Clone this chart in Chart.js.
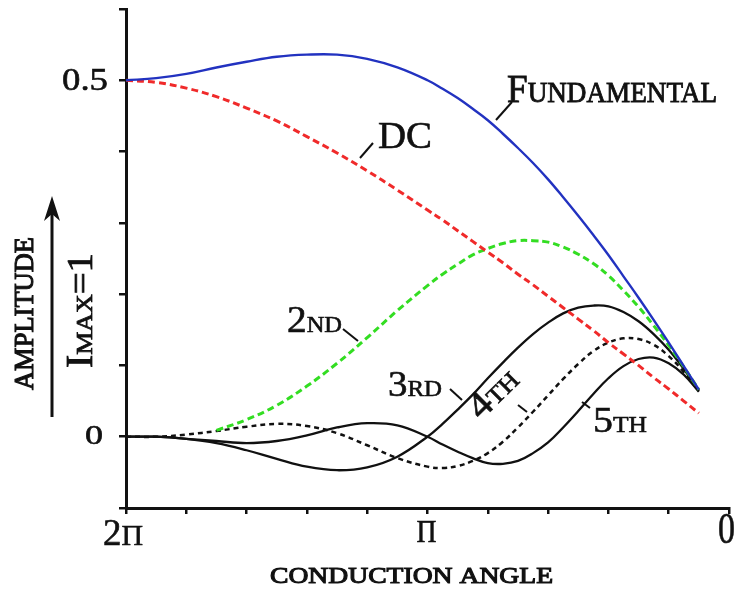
<!DOCTYPE html>
<html><head><meta charset="utf-8">
<script src="https://cdn.jsdelivr.net/npm/chart.js@4.4.1/dist/chart.umd.min.js"></script>
<style>html,body{margin:0;padding:0;background:#fff;}#wrap{width:740px;height:592px;}</style>
</head><body><div id="wrap"><canvas id="c" width="740" height="592"></canvas></div>
<script>
// conduction angle in units of pi (x axis runs from 2pi on the left to 0 on the right)
const alpha = [2.0,1.9,1.8,1.7,1.6,1.5,1.4,1.3,1.2,1.1,1.0,0.95,0.9,0.85,0.8,0.75,0.7,0.65,0.6,0.55,0.5,0.45,0.4,0.35,0.3,0.25,0.2,0.15,0.1];
const fundamental = [0.5,0.503,0.509,0.518,0.526,0.533,0.536,0.536,0.530,0.518,0.500,0.488,0.475,0.460,0.444,0.425,0.405,0.384,0.361,0.336,0.310,0.283,0.255,0.225,0.195,0.164,0.132,0.099,0.066];
const dc = [0.5,0.497,0.489,0.477,0.461,0.443,0.421,0.398,0.373,0.346,0.318,0.304,0.289,0.274,0.259,0.244,0.228,0.213,0.197,0.181,0.165,0.149,0.132,0.116,0.100,0.083,0.067,0.050,0.033];
const second = [null,null,null,0.009,0.024,0.044,0.071,0.103,0.139,0.177,0.212,0.228,0.242,0.255,0.264,0.271,0.275,0.275,0.273,0.266,0.256,0.243,0.226,0.205,0.182,0.156,0.128,0.098,0.066];
const third = [0,0,-0.003,-0.009,-0.019,-0.031,-0.042,-0.047,-0.043,-0.028,0,0.018,0.038,0.059,0.082,0.104,0.125,0.144,0.160,0.173,0.181,0.184,0.183,0.175,0.162,0.144,0.122,0.095,0.065];
const fourth = [0,0,0.003,0.008,0.014,0.018,0.015,0.005,-0.012,-0.030,-0.042,-0.044,-0.041,-0.034,-0.023,-0.007,0.013,0.035,0.058,0.081,0.102,0.120,0.132,0.138,0.137,0.129,0.113,0.091,0.064];
const fifth = [0,0,-0.003,-0.006,-0.009,-0.006,0.002,0.013,0.019,0.016,0,-0.011,-0.021,-0.030,-0.037,-0.038,-0.034,-0.023,-0.008,0.013,0.036,0.060,0.082,0.099,0.109,0.111,0.103,0.087,0.063];

const xTickValues = [2, 1, 0];
const xTickTexts = [[['2',37],['Π',30]], [['Π',32]], [['0',44]]];
const yTickValues = [0.5, 0];
const yTickTexts = ['0.5', '0'];

const SERIF = '"Liberation Serif","Times New Roman",serif';
function pts(arr){ return alpha.map((a,i)=>({x:a, y:arr[i]})); }

function drawParts(ctx, parts, x, y, width, rot, heavy){
  ctx.save();
  ctx.translate(x, y);
  if (rot) ctx.rotate(rot);
  let nat = 0;
  parts.forEach(p=>{ ctx.font = p[1]+'px '+SERIF; nat += ctx.measureText(p[0]).width; });
  const sx = width ? width/nat : 1;
  ctx.scale(sx, 1);
  ctx.fillStyle = '#111'; ctx.strokeStyle = '#111'; ctx.lineWidth = heavy || 0.6;
  ctx.textAlign = 'left'; ctx.textBaseline = 'alphabetic';
  let cx = 0;
  parts.forEach(p=>{ ctx.font = p[1]+'px '+SERIF; ctx.fillText(p[0], cx, 0); ctx.strokeText(p[0], cx, 0); cx += ctx.measureText(p[0]).width; });
  ctx.restore();
}
function seg(ctx, x1, y1, x2, y2, w){
  ctx.save(); ctx.strokeStyle = '#111'; ctx.lineWidth = w || 2; ctx.lineCap = 'butt';
  ctx.beginPath(); ctx.moveTo(x1, y1); ctx.lineTo(x2, y2); ctx.stroke(); ctx.restore();
}

const labelsPlugin = {
  id: 'labels',
  afterDraw(chart){
    const ctx = chart.ctx, xs = chart.scales.x, ys = chart.scales.y;
    // x tick labels
    const xw = [40, 20, 17];
    const xoff = [-3, -1, -2.5];
    const xbase = [545, 542, 543];
    xTickValues.forEach((v,i)=>{
      const px = xs.getPixelForValue(v) + xoff[i];
      drawParts(ctx, xTickTexts[i], px - xw[i]/2, xbase[i], xw[i]);
    });
    // y tick labels
    const yRight = [108, 103], yw = [46, 18], ysz = [31, 27], ydy = [10, 7];
    yTickValues.forEach((v,i)=>{
      const py = ys.getPixelForValue(v) + ydy[i];
      drawParts(ctx, [[yTickTexts[i], ysz[i]]], yRight[i] - yw[i], py, yw[i]);
    });
    // axis titles
    drawParts(ctx, [['CONDUCTION ANGLE', 24]], 270, 583, 283, 0, 1.1);
    drawParts(ctx, [['AMPLITUDE', 27]], 33, 390, 153, -Math.PI/2, 1.1);
    drawParts(ctx, [['I', 37], ['MAX', 24], ['=1', 36]], 92, 368, 115, -Math.PI/2, 0.8);
    // arrow
    seg(ctx, 52, 417, 52, 210, 3);
    ctx.save(); ctx.fillStyle = '#111'; ctx.beginPath();
    ctx.moveTo(52, 196); ctx.lineTo(60, 221); ctx.lineTo(52, 214); ctx.lineTo(44, 221); ctx.closePath(); ctx.fill(); ctx.restore();
    // curve labels
    drawParts(ctx, [['F', 41], ['UNDAMENTAL', 30]], 507, 102, 210, 0, 0.9);
    seg(ctx, 496, 120, 512, 102);
    drawParts(ctx, [['DC', 38]], 378, 148, 54);
    seg(ctx, 360, 158, 373, 143);
    drawParts(ctx, [['2', 37], ['ND', 23]], 287, 332, 55);
    seg(ctx, 343, 329, 358, 341);
    drawParts(ctx, [['3', 36], ['RD', 23]], 388, 396, 54);
    seg(ctx, 450, 389, 462, 400);
    drawParts(ctx, [['4', 38], ['TH', 24]], 481, 421, 56, -0.78);
    seg(ctx, 518, 405, 527, 412);
    drawParts(ctx, [['5', 36], ['TH', 23]], 593, 432, 54);
    seg(ctx, 582, 402, 590, 408);
  }
};

new Chart(document.getElementById('c').getContext('2d'), {
  type: 'line',
  data: { datasets: [
    { label:'Fundamental', data: pts(fundamental), borderColor:'#2232c0', borderWidth:2.4, tension:0.4, order:1 },
    { label:'DC', data: pts(dc), borderColor:'#f02a2a', borderWidth:3, borderDash:[7,4], tension:0.4, order:2 },
    { label:'2nd', data: pts(second), borderColor:'#33dd22', borderWidth:3, borderDash:[7,4], tension:0.4, order:3 },
    { label:'3rd', data: pts(third), borderColor:'#111', borderWidth:2.3, tension:0.4, order:4 },
    { label:'4th', data: pts(fourth), borderColor:'#111', borderWidth:2.5, borderDash:[5,4], tension:0.4, order:5 },
    { label:'5th', data: pts(fifth), borderColor:'#111', borderWidth:2.3, tension:0.4, order:6 }
  ]},
  options: {
    responsive:false, animation:false, devicePixelRatio:1,
    layout:{ padding:{ left:0, right:11, top:9, bottom:0 } },
    plugins:{ legend:{display:false}, tooltip:{enabled:false} },
    elements:{ point:{ radius:0 } },
    scales:{
      x:{ type:'linear', min:0, max:2, reverse:true,
          afterFit(s){ s.height = 84; },
          border:{ display:true, color:'#111', width:3 },
          grid:{ display:true, drawOnChartArea:false, drawTicks:true, tickLength:6, color:'#111', lineWidth:2.5 },
          ticks:{ stepSize:0.2, display:false } },
      y:{ type:'linear', min:-0.1, max:0.6,
          afterFit(s){ s.width = 126; },
          border:{ display:true, color:'#111', width:3 },
          grid:{ display:true, drawOnChartArea:false, drawTicks:true, tickLength:7, color:'#111', lineWidth:2.5 },
          ticks:{ stepSize:0.1, display:false } }
    }
  },
  plugins:[labelsPlugin]
});
</script>
</body></html>
